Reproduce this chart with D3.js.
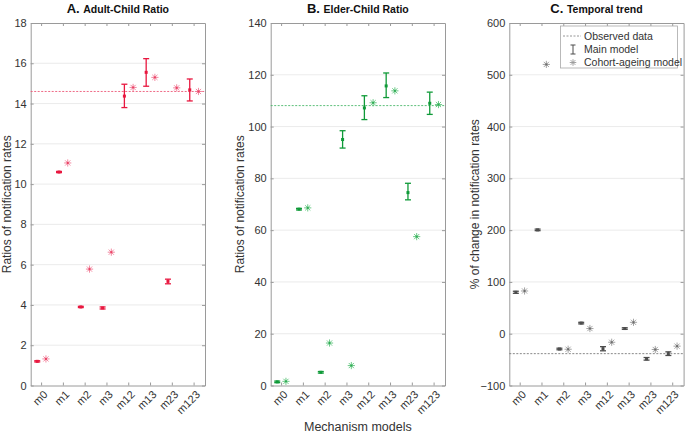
<!DOCTYPE html>
<html><head><meta charset="utf-8">
<script src="https://cdn.jsdelivr.net/npm/d3@7"></script>
<style>
body{margin:0;background:#fff;}
svg{display:block;font-family:"Liberation Sans",Arial,sans-serif;}
</style></head>
<body><svg id="chart" width="685" height="434"></svg>
<script>
const categories = ["m0","m1","m2","m3","m12","m13","m23","m123"];

// Panel A: Adult-Child Ratio
const adultMain = [1.2, 10.6, 3.9, 3.85, 14.37, 15.55, 5.17, 14.68];
const adultLow  = [1.17, 10.57, 3.87, 3.80, 13.8, 14.86, 5.05, 14.13];
const adultHigh = [1.23, 10.63, 3.93, 3.90, 14.96, 16.23, 5.28, 15.22];
const adultStar = [1.32, 11.05, 5.78, 6.62, 14.8, 15.3, 14.78, 14.6];
const adultObs = 14.6;
const adultTicks = [0,2,4,6,8,10,12,14,16,18];

// Panel B: Elder-Child Ratio
const elderMain = [1.4, 68.1, 5.1, 95.0, 107.2, 115.7, 74.5, 109.0];
const elderLow  = [1.1, 67.8, 4.8, 91.7, 102.7, 111.2, 71.7, 104.7];
const elderHigh = [1.7, 68.4, 5.4, 98.4, 111.9, 120.7, 78.1, 113.3];
const elderStar = [1.6, 68.6, 16.4, 7.7, 109.2, 113.8, 57.5, 108.5];
const elderObs = 108.1;
const elderTicks = [0,20,40,60,80,100,120,140];

// Panel C: Temporal trend
const trendMain = [80, 200.5, -29.5, 20.5, -29, 10, -48.5, -38.5];
const trendLow  = [78, 199, -31, 19, -33, 8.5, -51, -42];
const trendHigh = [82, 202, -28, 22, -25, 11.5, -46, -35];
const trendStar = [82.5, 520, -30, 10, -16.5, 22, -30.5, -24];
const trendObs = -38.5;
const trendTicks = [-100,0,100,200,300,400,500,600];

const legendLabels = ["Observed data","Main model","Cohort-ageing model"];

const svg = d3.select("#chart");
const plotTop = 23, plotBottom = 385.5, pw = 174.3;

const panels = [
  {left:30.7, letter:"A.", title:"Adult-Child Ratio", ylab:"Ratios of notification rates", ylabX:7,
   main:adultMain, low:adultLow, high:adultHigh, star:adultStar, obs:adultObs, ticks:adultTicks,
   col:"#e8173f", starCol:"#f07d97", obsCol:"#ec5a78"},
  {left:270.7, letter:"B.", title:"Elder-Child Ratio", ylab:"Ratios of notification rates", ylabX:240,
   main:elderMain, low:elderLow, high:elderHigh, star:elderStar, obs:elderObs, ticks:elderTicks,
   col:"#0f9a38", starCol:"#5ec57c", obsCol:"#4bb86b"},
  {left:509.3, letter:"C.", title:"Temporal trend", ylab:"% of change in notification rates", ylabX:475,
   main:trendMain, low:trendLow, high:trendHigh, star:trendStar, obs:trendObs, ticks:trendTicks,
   col:"#4d4d4d", starCol:"#9a9a9a", obsCol:"#7a7a7a"}
];

const axisCol = "#9a9a9a", textCol = "#333";

function drawStar(g, cx, cy, r, col){
  const s = g.append("g").attr("stroke", col).attr("stroke-width", 0.9);
  const d = r*0.72;
  s.append("line").attr("x1",cx-r).attr("x2",cx+r).attr("y1",cy).attr("y2",cy);
  s.append("line").attr("x1",cx).attr("x2",cx).attr("y1",cy-r).attr("y2",cy+r);
  s.append("line").attr("x1",cx-d).attr("x2",cx+d).attr("y1",cy-d).attr("y2",cy+d);
  s.append("line").attr("x1",cx-d).attr("x2",cx+d).attr("y1",cy+d).attr("y2",cy-d);
}

panels.forEach(p => {
  const x = d3.scaleBand().domain(categories).range([p.left, p.left+pw]).paddingInner(0).paddingOuter(0);
  const bw = x.bandwidth();
  const cx = c => x(c) + bw/2;
  const y = d3.scaleLinear().domain([p.ticks[0], p.ticks[p.ticks.length-1]]).range([plotBottom, plotTop]);
  const g = svg.append("g");

  // grid
  g.append("g").selectAll("line").data(p.ticks.slice(1,-1)).join("line")
    .attr("x1", p.left).attr("x2", p.left+pw)
    .attr("y1", d=>y(d)).attr("y2", d=>y(d))
    .attr("stroke", "#e6e6e6").attr("stroke-width", 0.8);

  // axes
  const fmt = d3.format("d");
  const ax = g.append("g").attr("transform",`translate(${p.left},0)`)
    .call(d3.axisLeft(y).tickValues(p.ticks).tickFormat(fmt).tickSizeInner(-3).tickSizeOuter(0).tickPadding(4));
  const axR = g.append("g").attr("transform",`translate(${p.left+pw},0)`)
    .call(d3.axisRight(y).tickValues(p.ticks).tickFormat("").tickSizeInner(-3).tickSizeOuter(0));
  const axB = g.append("g").attr("transform",`translate(0,${plotBottom})`)
    .call(d3.axisBottom(x).tickSizeInner(-3).tickSizeOuter(0).tickFormat(""));
  const axT = g.append("g").attr("transform",`translate(0,${plotTop})`)
    .call(d3.axisTop(x).tickSizeInner(-3).tickSizeOuter(0).tickFormat(""));
  [ax,axR,axB,axT].forEach(a=>{
    a.select(".domain").attr("stroke", axisCol);
    a.selectAll(".tick line").attr("stroke", axisCol);
  });
  ax.selectAll("text").attr("fill", textCol).attr("font-size", 11)
    .attr("font-family", '"Liberation Sans",Arial,sans-serif');

  // x tick labels rotated
  g.append("g").selectAll("text").data(categories).join("text")
    .attr("transform", d=>`translate(${cx(d)+4},${plotBottom+7}) rotate(-45)`)
    .attr("text-anchor","end").attr("dy","0.35em")
    .attr("font-size", 11).attr("fill", textCol).text(d=>d);

  // observed line
  g.append("line").attr("x1", p.left).attr("x2", p.left+pw)
    .attr("y1", y(p.obs)).attr("y2", y(p.obs))
    .attr("stroke", p.obsCol).attr("stroke-width", 0.9).attr("stroke-dasharray","2,1.5");

  // error bars (main model)
  const off = 0.2*bw;
  categories.forEach((c,i)=>{
    const xm = cx(c) - off;
    const eb = g.append("g").attr("stroke", p.col).attr("stroke-width", 1.3);
    eb.append("line").attr("x1",xm).attr("x2",xm).attr("y1",y(p.low[i])).attr("y2",y(p.high[i]));
    eb.append("line").attr("x1",xm-3).attr("x2",xm+3).attr("y1",y(p.low[i])).attr("y2",y(p.low[i]));
    eb.append("line").attr("x1",xm-3).attr("x2",xm+3).attr("y1",y(p.high[i])).attr("y2",y(p.high[i]));
    g.append("rect").attr("x",xm-1.5).attr("y",y(p.main[i])-1.5).attr("width",3).attr("height",3).attr("fill",p.col);
    // cohort-ageing star
    const xs = cx(c) + off;
    drawStar(g, xs, y(p.star[i]), 3.6, p.starCol);
    g.append("rect").attr("x",xs-1).attr("y",y(p.star[i])-1).attr("width",2).attr("height",2).attr("fill",p.col).attr("opacity",0.6);
  });

  // title
  const t = svg.append("text").attr("x", p.left+pw/2).attr("y", 13).attr("text-anchor","middle")
    .attr("font-weight","bold").attr("fill","#111");
  t.append("tspan").attr("font-size",13).text(p.letter+" ");
  t.append("tspan").attr("font-size",10.5).text(p.title);

  // y label
  svg.append("text").attr("transform",`translate(${p.ylabX+4},${(plotTop+plotBottom)/2}) rotate(-90)`)
    .attr("text-anchor","middle").attr("font-size",12).attr("fill",textCol).text(p.ylab);
});

// x axis label
svg.append("text").attr("x", 270.7+pw/2).attr("y", 431).attr("text-anchor","middle")
  .attr("font-size",12.5).attr("fill",textCol).text("Mechanism models");

// legend (panel C)
const lg = svg.append("g");
lg.append("rect").attr("x",560.5).attr("y",26).attr("width",117).attr("height",42)
  .attr("fill","#fff").attr("stroke","#a8a8a8").attr("stroke-width",0.8);
const ly = [36, 49.5, 62.5];
lg.append("line").attr("x1",563).attr("x2",581).attr("y1",ly[0]).attr("y2",ly[0])
  .attr("stroke","#8a8a8a").attr("stroke-width",0.9).attr("stroke-dasharray","2,1.5");
const lx = 573;
lg.append("line").attr("x1",lx).attr("x2",lx).attr("y1",ly[1]-4.5).attr("y2",ly[1]+4.5).attr("stroke","#4d4d4d").attr("stroke-width",1);
lg.append("line").attr("x1",lx-2.5).attr("x2",lx+2.5).attr("y1",ly[1]-4.5).attr("y2",ly[1]-4.5).attr("stroke","#4d4d4d").attr("stroke-width",1);
lg.append("line").attr("x1",lx-2.5).attr("x2",lx+2.5).attr("y1",ly[1]+4.5).attr("y2",ly[1]+4.5).attr("stroke","#4d4d4d").attr("stroke-width",1);
drawStar(lg, lx, ly[2], 3.3, "#9a9a9a");
lg.selectAll("text.l").data(legendLabels).join("text").attr("class","l")
  .attr("x",584).attr("y",(d,i)=>ly[i]).attr("dy","0.35em")
  .attr("font-size",10.5).attr("fill",textCol).text(d=>d);
</script></body></html>
